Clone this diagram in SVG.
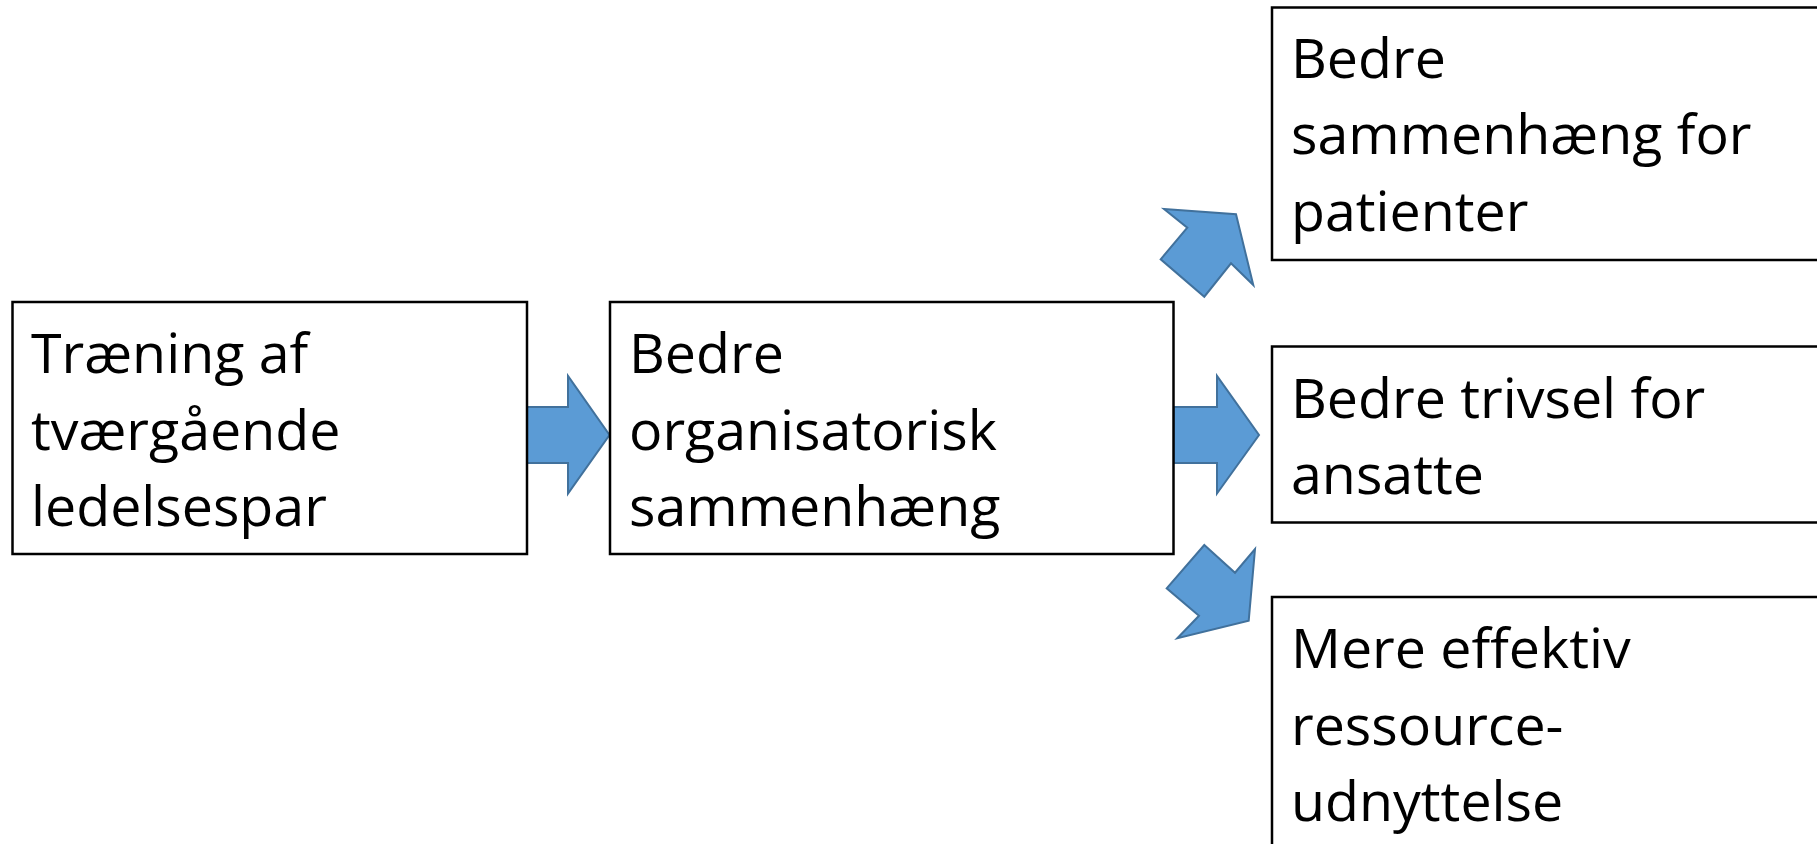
<svg xmlns="http://www.w3.org/2000/svg" width="1817" height="844" viewBox="0 0 1817 844">
<style>
.box{fill:#ffffff;stroke:#000000;stroke-width:2.5}
.arrow{fill:#5B9BD5;stroke:#41719C;stroke-width:2;stroke-linejoin:miter}
.t{font-family:"Open Sans","Noto Sans",sans-serif;font-size:55.5px;fill:#000000}
</style>
<rect x="0" y="0" width="1817" height="844" fill="#ffffff"/>
<g id="connectors">
<polygon class="arrow" points="527,407 568,407 568,376 609.5,435 568,493.5 568,463 527,463"/>
<polygon class="arrow" points="1173.5,407 1217,407 1217,376 1259,435 1217,493.5 1217,463 1173.5,463"/>
<polygon class="arrow" points="1164,209 1236,214.3 1253.3,285 1231,263.3 1204.3,296.7 1160.7,259.3 1187.3,227.7"/>
<polygon class="arrow" points="1204.3,545 1235,572.7 1255,549 1248.7,620.7 1177.3,638.3 1199,615.7 1166.7,588.3"/>
</g>
<g id="node-traening">
<rect class="box" x="12.5" y="302" width="514.5" height="252"/>
<text class="t" x="31" y="373">Træning af</text>
<text class="t" x="31" y="450">tværgående</text>
<text class="t" x="31" y="526">ledelsespar</text>
</g>
<g id="node-organisatorisk">
<rect class="box" x="610" y="302" width="563.5" height="252"/>
<text class="t" x="629" y="373">Bedre</text>
<text class="t" x="629" y="450">organisatorisk</text>
<text class="t" x="629" y="526">sammenhæng</text>
</g>
<g id="node-patienter">
<rect class="box" x="1272" y="7.5" width="600" height="252.5"/>
<text class="t" x="1291" y="77.5">Bedre</text>
<text class="t" x="1291" y="154">sammenhæng for</text>
<text class="t" x="1291" y="231">patienter</text>
</g>
<g id="node-ansatte">
<rect class="box" x="1272" y="346.5" width="600" height="176"/>
<text class="t" x="1291" y="417.5">Bedre trivsel for</text>
<text class="t" x="1291" y="494">ansatte</text>
</g>
<g id="node-ressource">
<rect class="box" x="1272" y="597" width="600" height="300"/>
<text class="t" x="1291" y="668">Mere effektiv</text>
<text class="t" x="1291" y="744.5">ressource-</text>
<text class="t" x="1291" y="821">udnyttelse</text>
</g>
</svg>
